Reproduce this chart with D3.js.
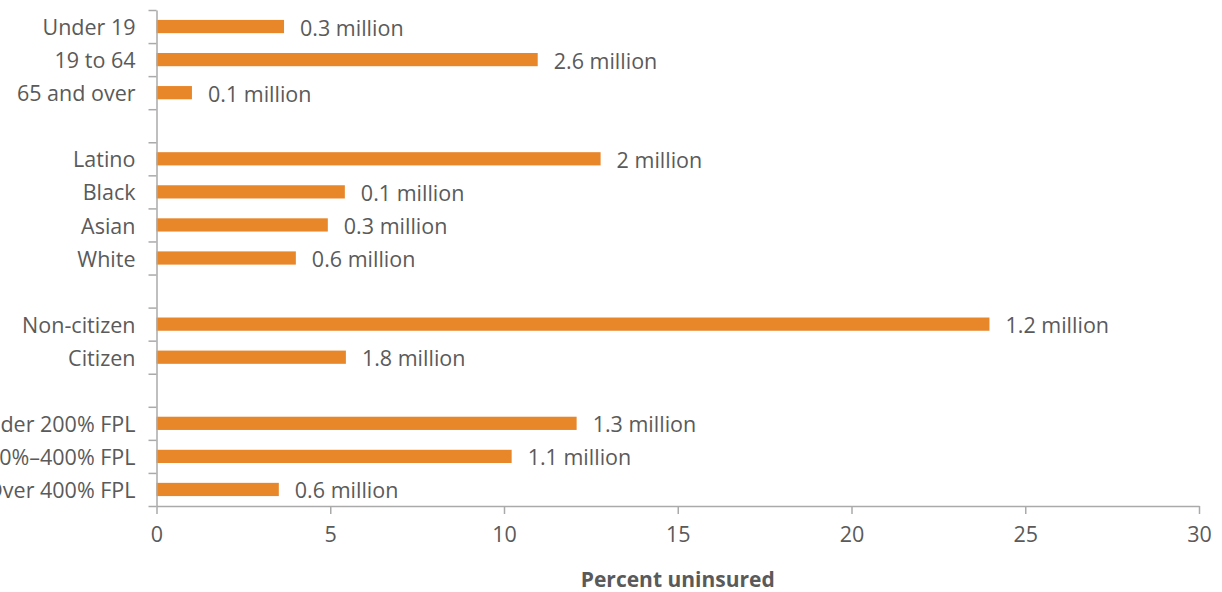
<!DOCTYPE html>
<html><head><meta charset="utf-8">
<script src="https://cdn.jsdelivr.net/npm/d3@7"></script>
<style>body{margin:0;background:#fff}svg{display:block}text{font-family:"Open Sans","Noto Sans",sans-serif}</style>
</head><body><svg id="c" width="1222" height="592"></svg>
<script>
const categories = ["Under 19","19 to 64","65 and over","","Latino","Black","Asian","White","","Non-citizen","Citizen","","Under 200% FPL","200%–400% FPL","Over 400% FPL"];
const percentUninsured = [3.67,10.97,1.02,null,12.78,5.42,4.93,4.01,null,23.97,5.45,null,12.09,10.22,3.52];
const countLabels = ["0.3 million","2.6 million","0.1 million","","2 million","0.1 million","0.3 million","0.6 million","","1.2 million","1.8 million","","1.3 million","1.1 million","0.6 million"];
const xTicks = [0,5,10,15,20,25,30];
const xTitle = "Percent uninsured";

(function(){
const svg = d3.select("#c");
const mL = 156.5, mR = 1199, mT = 10, mB = 506;
const FS = 21.5, FF = "'Open Sans','Noto Sans',sans-serif";
const keys = categories.map((c,i)=>i);
const x = d3.scaleLinear().domain([0,30]).range([mL,mR]);
const y = d3.scaleBand().domain(keys).range([mT,mB]).paddingInner(0.6).paddingOuter(0.3);
const yb = d3.scaleLinear().domain([0,categories.length]).range([mT,mB]);
const grey = "#aaaaaa", txt = "#5a5a5a", orange = "#e8862a";

const rows = keys.filter(i=>percentUninsured[i]!=null);
svg.append("g").selectAll("rect").data(rows).join("rect")
  .attr("x", x(0)).attr("y", i=>y(i)).attr("height", y.bandwidth())
  .attr("width", i=>x(percentUninsured[i])-x(0)).attr("fill", orange);
svg.append("g").selectAll("text").data(rows).join("text")
  .attr("x", i=>x(percentUninsured[i])+16).attr("y", i=>y(i)+y.bandwidth()/2)
  .attr("dy","0.42em").attr("font-size",FS).attr("fill",txt).text(i=>countLabels[i]);

const ya = svg.append("g").attr("transform",`translate(${mL},0)`)
  .call(d3.axisLeft(yb).tickValues(d3.range(categories.length+1)).tickFormat("").tickSize(8).tickSizeOuter(0));
ya.selectAll("line,path").attr("stroke",grey).attr("stroke-width",1.5);
svg.append("g").selectAll("text").data(keys.filter(i=>categories[i])).join("text")
  .attr("x", mL-21).attr("y", i=>y(i)+y.bandwidth()/2).attr("dy","0.4em")
  .attr("text-anchor","end").attr("font-size",FS).attr("fill",txt).text(i=>categories[i]);

const xa = svg.append("g").attr("transform",`translate(0,${mB})`)
  .call(d3.axisBottom(x).tickValues(xTicks).tickSize(8).tickSizeOuter(0).tickPadding(13));
xa.selectAll("line,path").attr("stroke",grey).attr("stroke-width",1.5);
xa.selectAll("text").attr("font-size",FS).attr("fill",txt).attr("font-family",FF);

svg.append("text").attr("x",(mL+mR)/2).attr("y",587).attr("text-anchor","middle")
  .attr("font-size",21).attr("font-weight","bold").attr("fill",txt).text(xTitle);
})();
</script></body></html>
